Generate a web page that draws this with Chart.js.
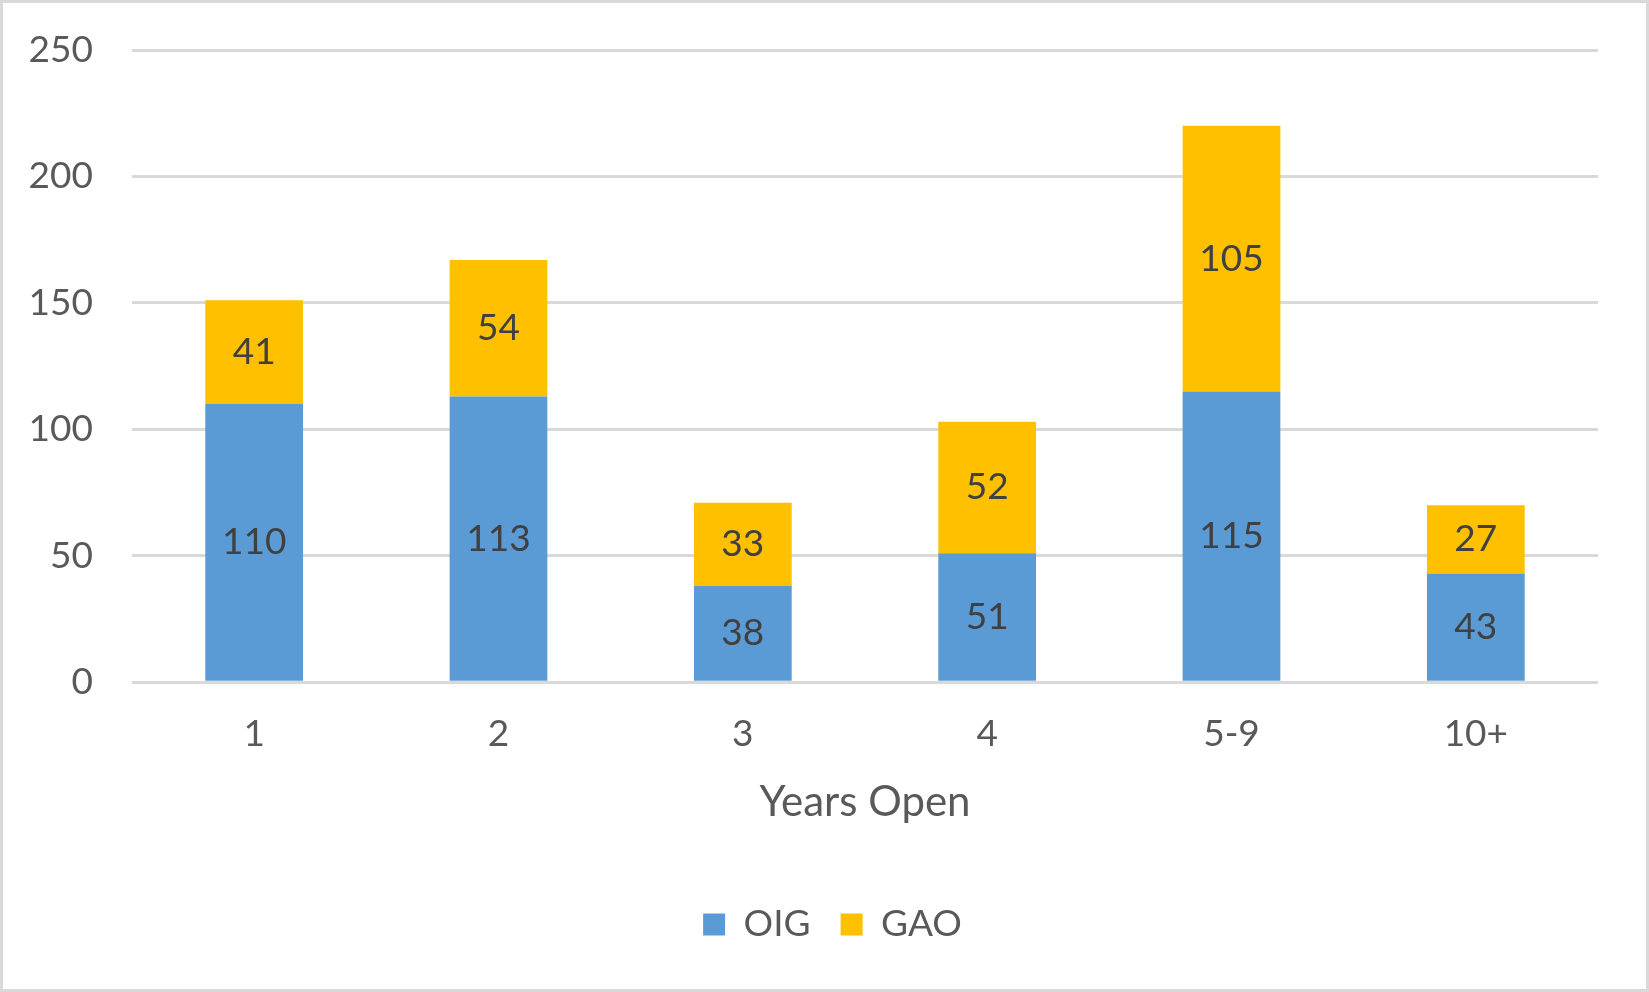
<!DOCTYPE html>
<html>
<head>
<meta charset="utf-8">
<script src="https://cdn.jsdelivr.net/npm/chart.js@4/dist/chart.umd.min.js"></script>
<style>
  html, body { margin: 0; padding: 0; background: #fff; }
  #wrap { position: relative; width: 1649px; height: 992px; }
</style>
</head>
<body>
<div id="wrap"><canvas id="chartYears"></canvas></div>
<script>
// dados
const categorias = ['1', '2', '3', '4', '5-9', '10+'];
const valoresOIG = [110, 113, 38, 51, 115, 43];
const valoresGAO = [41, 54, 33, 52, 105, 27];
const ticksY = [0, 50, 100, 150, 200, 250];

const fonte = 'Lato, "Open Sans", sans-serif';

// borda cinza em volta de tudo
const bordaPlugin = {
    id: 'borda',
    afterDraw(chart) {
        const ctx = chart.ctx;
        ctx.save();
        ctx.strokeStyle = '#d9d9d9';
        ctx.lineWidth = 3;
        ctx.strokeRect(1.5, 1.5, chart.width - 3, chart.height - 3);
        ctx.restore();
    }
};

// rótulos no centro de cada barra
const rotulosPlugin = {
    id: 'rotulos',
    afterDatasetsDraw(chart) {
        const ctx = chart.ctx;
        ctx.save();
        ctx.font = '37px ' + fonte;
        ctx.fillStyle = '#404040';
        ctx.textAlign = 'center';
        ctx.textBaseline = 'middle';
        chart.data.datasets.forEach((ds, i) => {
            chart.getDatasetMeta(i).data.forEach((bar, j) => {
                const y = (bar.y + bar.base) / 2;
                ctx.fillText(ds.data[j], bar.x, y);
            });
        });
        ctx.restore();
    }
};

const ctx = document.getElementById('chartYears').getContext('2d');
new Chart(ctx, {
    type: 'bar',
    data: {
        labels: categorias,
        datasets: [
            { label: 'OIG', data: valoresOIG, backgroundColor: '#5b9bd5', borderWidth: 0 },
            { label: 'GAO', data: valoresGAO, backgroundColor: '#ffc000', borderWidth: 0 }
        ]
    },
    options: {
        responsive: true,
        maintainAspectRatio: false,
        animation: false,
        layout: { padding: { top: 50, left: 16, right: 0, bottom: 39 } },
        datasets: { bar: { barPercentage: 0.4, categoryPercentage: 1 } },
        plugins: {
            tooltip: { enabled: false },
            legend: {
                position: 'bottom',
                labels: {
                    font: { family: fonte, size: 37 },
                    color: '#595959',
                    boxWidth: 22,
                    boxHeight: 22,
                    padding: 30
                }
            }
        },
        scales: {
            x: {
                stacked: true,
                grid: { display: false },
                border: { display: false },
                ticks: { color: '#595959', font: { family: fonte, size: 37 }, padding: 22 },
                title: {
                    display: true,
                    text: 'Years Open',
                    color: '#595959',
                    font: { family: fonte, size: 42 },
                    padding: { top: -1, bottom: 48 }
                }
            },
            y: {
                stacked: true,
                min: 0,
                max: 250,
                afterBuildTicks(scale) {
                    scale.ticks = ticksY.map(v => ({ value: v }));
                },
                afterFit(scale) {
                    scale.width = 116;
                },
                // marca invisível faz o espaço entre rótulo e grade
                grid: { color: '#d9d9d9', lineWidth: 3, drawTicks: true, tickLength: 39, tickColor: 'rgba(0,0,0,0)' },
                border: { display: false },
                ticks: { color: '#595959', font: { family: fonte, size: 37 }, padding: 0 }
            },
            // eixo vazio só para reservar a margem da direita
            margem: {
                position: 'right',
                display: true,
                afterFit(scale) {
                    scale.width = 51;
                },
                grid: { display: false },
                border: { display: false },
                ticks: { display: false }
            }
        }
    },
    plugins: [bordaPlugin, rotulosPlugin]
});
</script>
</body>
</html>
